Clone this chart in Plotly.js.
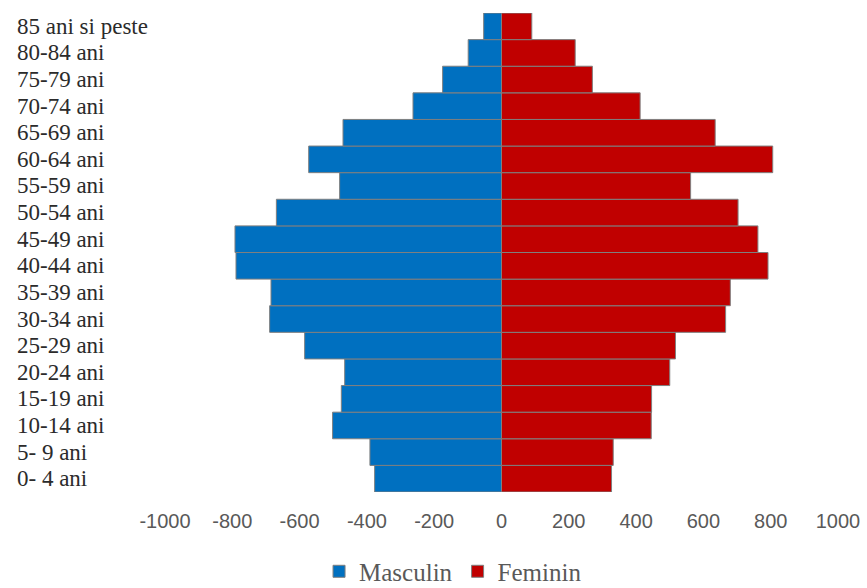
<!DOCTYPE html>
<html>
<head>
<meta charset="utf-8">
<script src="https://cdn.plot.ly/plotly-3.0.1.min.js"></script>
<style>html,body{margin:0;padding:0;background:#fff;}#chart{width:867px;height:588px;}</style>
</head>
<body>
<div id="chart"></div>
<script>
var ageGroups = ["0- 4 ani","5- 9 ani","10-14 ani","15-19 ani","20-24 ani","25-29 ani","30-34 ani","35-39 ani","40-44 ani","45-49 ani","50-54 ani","55-59 ani","60-64 ani","65-69 ani","70-74 ani","75-79 ani","80-84 ani","85 ani si peste"];
var masculin = [-377,-391,-502,-476,-466,-585,-689,-685,-789,-792,-669,-481,-573,-471,-263,-175,-99,-53];
var feminin = [327,332,445,446,500,517,666,680,792,762,703,562,806,635,412,270,219,90];
var tickValues = [-1000,-800,-600,-400,-200,0,200,400,600,800,1000];
var tickLabels = ["-1000","-800","-600","-400","-200","0","200","400","600","800","1000"];
var seriesNames = ["Masculin","Feminin"];

var serif = 'Liberation Serif';
var sans = 'Liberation Sans';

var traces = [
  {type:'bar', orientation:'h', name:seriesNames[0], y:ageGroups, x:masculin,
   marker:{color:'#0070C0', line:{color:'#7f7f7f', width:1}}, hoverinfo:'skip'},
  {type:'bar', orientation:'h', name:seriesNames[1], y:ageGroups, x:feminin,
   marker:{color:'#C00000', line:{color:'#7f7f7f', width:1}}, hoverinfo:'skip'}
];

var annotations = ageGroups.map(function(g){
  return {xref:'paper', yref:'y', x:-0.2229, y:g, xanchor:'left', yanchor:'middle',
          text:g, showarrow:false, font:{family:serif, size:23, color:'#2b2b2b'}};
});

var layout = {
  width:867, height:588,
  font:{family:serif},
  margin:{l:165, r:29, t:13, b:96, pad:0, autoexpand:false},
  paper_bgcolor:'#ffffff', plot_bgcolor:'#ffffff',
  barmode:'relative', bargap:0,
  showlegend:true,
  legend:{orientation:'h', xref:'paper', x:0.428, xanchor:'center', yref:'container', y:0.028, yanchor:'middle',
          font:{family:serif, size:25, color:'#595959'},
          itemclick:false, itemdoubleclick:false},
  xaxis:{range:[-1000,1000], tickvals:tickValues, ticktext:tickLabels, showgrid:false, zeroline:false,
         showline:false, ticks:'', ticklabelstandoff:15, tickfont:{family:sans, size:20, color:'#595959'},
         fixedrange:true},
  yaxis:{type:'category', categoryorder:'array', categoryarray:ageGroups, range:[-0.5,17.5],
         showticklabels:false, showgrid:false, zeroline:false, showline:false, ticks:'', fixedrange:true},
  annotations:annotations
};

Plotly.newPlot('chart', traces, layout, {displayModeBar:false, staticPlot:true});
</script>
</body>
</html>
